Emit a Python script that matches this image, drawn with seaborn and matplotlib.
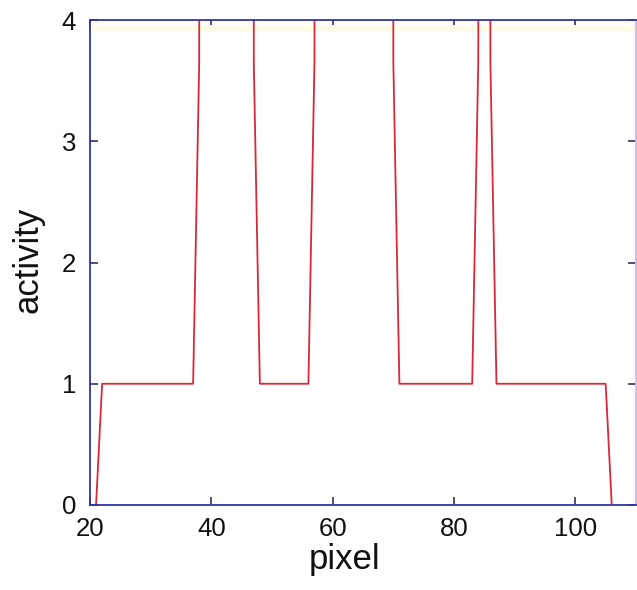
import matplotlib
matplotlib.use("Agg")
import matplotlib.pyplot as plt
import seaborn as sns
import pandas as pd

# data (values above 4 are clipped by the axes)
pixel = [21, 22, 37, 38, 39, 46, 47, 48, 56, 57, 58, 69, 70, 71, 83, 84, 85, 86, 87, 105, 106]
activity = [0, 1, 1, 3.65, 60, 60, 3.65, 1, 1, 3.65, 60, 60, 3.65, 1, 1, 3.65, 60, 3.65, 1, 1, 0]
band_x = [20, 110]
band_y = [3.93, 3.93]

df = pd.DataFrame({"pixel": pixel, "activity": activity})
band = pd.DataFrame({"pixel": band_x, "activity": band_y})

sns.set_style("white")
plt.rcParams["font.family"] = ["Liberation Sans", "DejaVu Sans"]

fig = plt.figure(figsize=(6.37, 5.90), dpi=100)
ax = fig.add_axes([90 / 637, 85 / 590, 546 / 637, 485 / 590])

sns.lineplot(data=band, x="pixel", y="activity", ax=ax, color="#fffbe6",
             linewidth=5, sort=False, estimator=None)
sns.lineplot(data=df, x="pixel", y="activity", ax=ax, color="#d8283a",
             linewidth=1.3, sort=False, estimator=None)

ax.set_xlim(20, 110)
ax.set_ylim(0, 4)
ax.set_xticks([20, 40, 60, 80, 100])
ax.set_yticks([0, 1, 2, 3, 4])
ax.tick_params(direction="in", length=6, width=1.2, color="#333355",
               labelsize=18.5, top=True, right=True, bottom=True, left=True,
               labelcolor="#111111")
ax.tick_params(axis="y", pad=10)
ax.tick_params(axis="x", pad=9)
for s in ax.spines.values():
    s.set_color("#3434a8")
    s.set_linewidth(1.3)
ax.spines["right"].set_color("#c8b8ee")

ax.set_xlabel("pixel", fontsize=25, color="#111111")
ax.xaxis.label.set_va("center")
ax.xaxis.set_label_coords((345 - 90) / 546, (505 - 560) / 485)
ax.set_ylabel("activity", fontsize=25, color="#111111")
ax.yaxis.label.set_va("center")
ax.yaxis.label.set_ha("center")
ax.yaxis.set_label_coords((28 - 90) / 546, (505 - 260) / 485)

fig.savefig("out.png", dpi=100)
